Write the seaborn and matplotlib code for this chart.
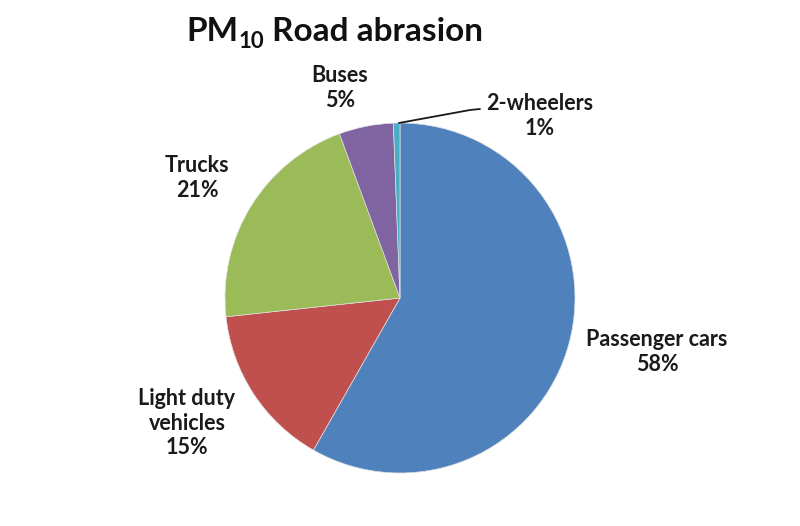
import numpy as np
import seaborn as sns
import matplotlib.pyplot as plt
from matplotlib.transforms import IdentityTransform

# data (2-wheelers wedge is very thin, ~0.6%)
categories = ['Passenger cars', 'Light duty\nvehicles', 'Trucks', 'Buses', '2-wheelers']
shares = [58, 15, 21, 5, 0.6]
colors = ['#4F81BD', '#C0504D', '#9BBB59', '#8064A2', '#4BACC6']

sns.set_theme(style='white')
plt.rcParams['font.family'] = ['Lato', 'DejaVu Sans']

fig = plt.figure(figsize=(8, 5.26), dpi=100)
fig.patch.set_facecolor('white')

# pie centred at ~(400, 298) px with radius ~175 px
W, H = 800, 526
cx, cy, r = 400, 298, 175
ax = fig.add_axes([(cx - r) / W, (H - cy - r) / H, 2 * r / W, 2 * r / H])
wedges, _ = ax.pie(shares, colors=colors, startangle=90, counterclock=False,
                   radius=1, wedgeprops=dict(linewidth=0.5, edgecolor='#e0e0e0'))
ax.set_xlim(-1, 1)
ax.set_ylim(-1, 1)
ax.set_aspect('equal')
ax.axis('off')

total = sum(shares)
pct = [f'{round(v / total * 100):.0f}%' for v in shares]

# label centres in pixels
label_px = {
    'Passenger cars': (657, 352),
    'Light duty\nvehicles': (187, 423),
    'Trucks': (197, 178),
    'Buses': (340, 88),
    '2-wheelers': (540, 116),
}

def to_data(px, py):
    return (px - cx) / r, (cy - py) / r

for cat, p in zip(categories, pct):
    x, y = to_data(*label_px[cat])
    ax.text(x, y, f'{cat}\n{p}', ha='center', va='center', fontsize=15.5,
            fontweight='bold', color='#1a1a1a', linespacing=1.2, clip_on=False)

# leader line for the tiny 2-wheelers wedge
x0, y0 = to_data(399, 123)
x1, y1 = to_data(470, 110)
x2, y2 = to_data(480, 109)
ax.plot([x0, x1, x2], [y0, y1, y2], color='#1a1a1a', lw=1.3, clip_on=False)

# title built from pieces so the subscript stays bold
fig.canvas.draw()
rend = fig.canvas.get_renderer()
base_y = H - 41
pieces = [('PM', 24, 0), ('10', 16, -7), (' Road abrasion', 24, 0)]
texts = []
xpos = 0
for s, fs, dy in pieces:
    t = fig.text(xpos, base_y + dy, s, fontsize=fs, fontweight='bold', color='#111111',
                 ha='left', va='baseline', transform=IdentityTransform())
    xpos += t.get_window_extent(rend).width
    texts.append(t)
start = 335 - xpos / 2
for t in texts:
    x, y = t.get_position()
    t.set_position((x + start, y))

fig.savefig('out.png', dpi=100)
